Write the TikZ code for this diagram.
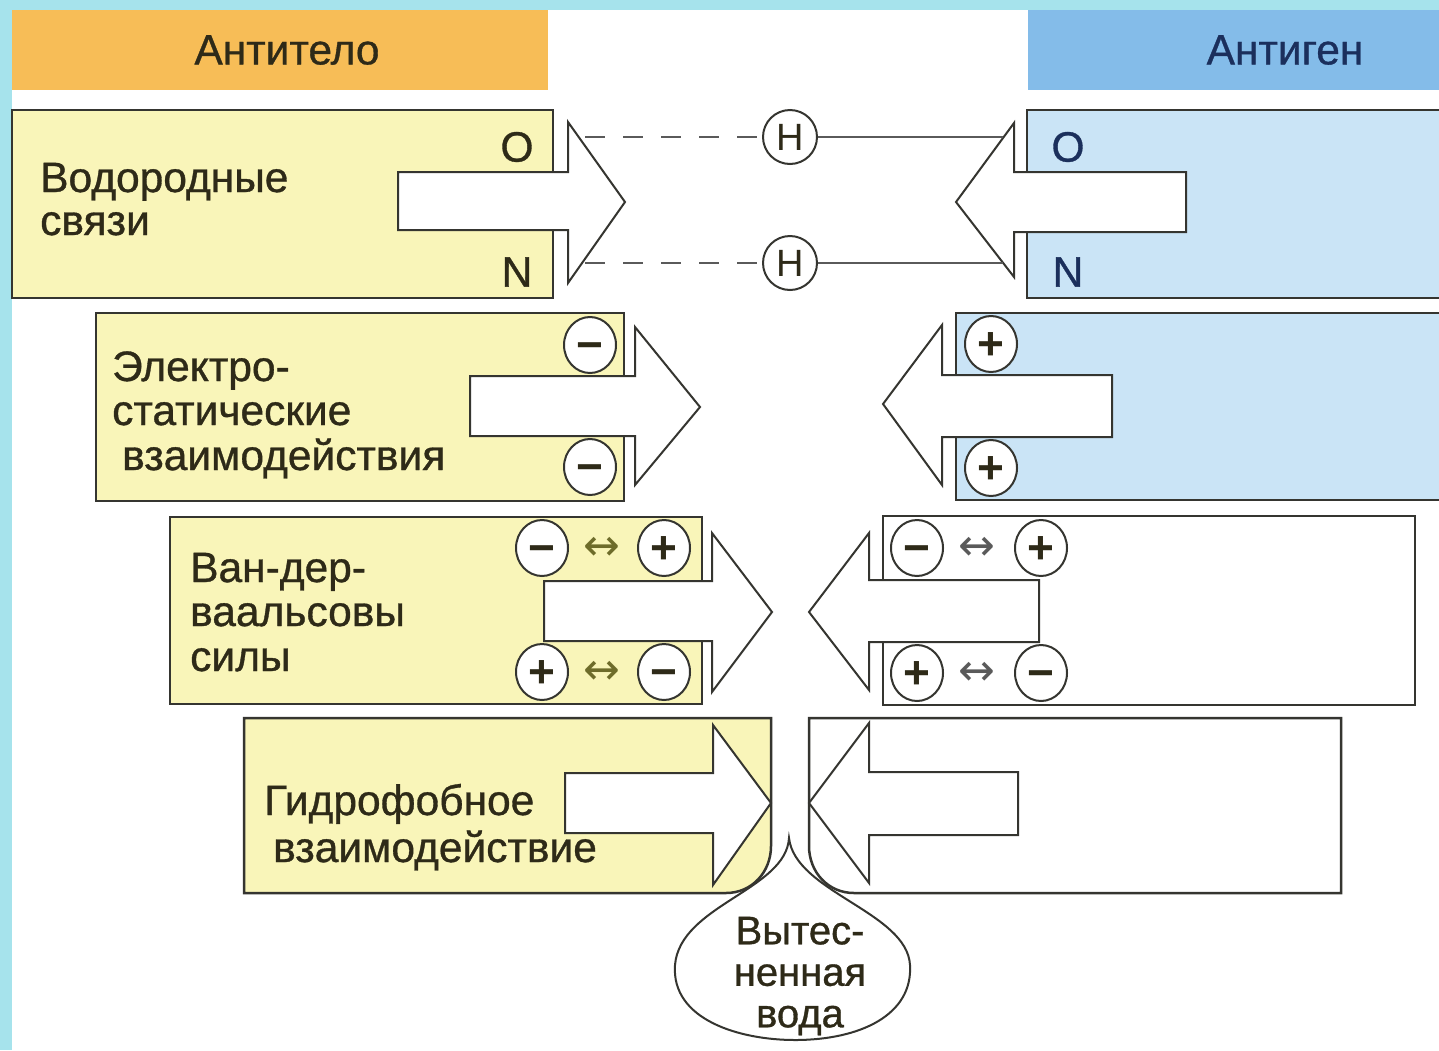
\documentclass[tikz,border=0pt]{standalone}
\usepackage{fontspec}
\setmainfont{Liberation Sans}
\newfontfamily\medfont{Liberation Sans}[FakeBold=0.8]
\newfontfamily\symfont{DejaVu Sans}
\usetikzlibrary{shapes.geometric}
\definecolor{framec}{HTML}{A6E3EC}
\definecolor{orangec}{HTML}{F7BD57}
\definecolor{bluehdr}{HTML}{84BCE9}
\definecolor{yelf}{HTML}{F9F5B9}
\definecolor{bluef}{HTML}{CAE4F6}
\definecolor{linec}{HTML}{353530}
\definecolor{textc}{HTML}{2E2A18}
\definecolor{navyc}{HTML}{1B2F5C}
\definecolor{olivec}{HTML}{6E6C2A}
\definecolor{grayl}{HTML}{5A5A5A}
\newcommand{\lblfont}{\medfont\fontsize{42.5}{46}\selectfont}
\newcommand{\chgfont}{\fontsize{46}{46}\selectfont\bfseries}
\tikzset{
  boxstyle/.style={draw=linec, line width=2.5pt},
  arrstyle/.style={draw=linec, line width=2pt, fill=white, line join=miter},
  lbl/.style={anchor=base west, font=\lblfont, text=textc, inner sep=0pt},
  hdr/.style={font=\lblfont, text=textc, inner sep=0pt},
  atom/.style={font=\lblfont, text=textc, inner sep=0pt},
  chg/.style={ellipse, draw=linec, line width=2pt, fill=white, minimum width=52pt, minimum height=56pt, inner sep=0pt, font=\chgfont, text=textc, text height=30pt, text depth=0pt},
  hcirc/.style={ellipse, draw=linec, line width=2pt, fill=white, minimum width=54pt, minimum height=54pt, inner sep=0pt, font=\fontsize{38}{38}\selectfont, text=textc},
  dsh/.style={draw=grayl, line width=2.5pt, dash pattern=on 20pt off 18pt},
  sol/.style={draw=grayl, line width=2.5pt},
  dbl/.style={font=\symfont\fontsize{44}{44}\selectfont, inner sep=0pt},
  dropstyle/.style={draw=linec, line width=2pt, fill=white},
  droptext/.style={font=\medfont\fontsize{40}{41.5}\selectfont, text=textc, inner sep=0pt, align=center},
}
\begin{document}
\begin{tikzpicture}[x=1pt,y=-1pt]
\useasboundingbox (0,0) rectangle (1439,1050);
\fill[framec] (0,0) rectangle (1439,1050);
\fill[white] (12,10) rectangle (1439,1050);

% headers
\fill[orangec] (12,10) rectangle (548,90);
\fill[bluehdr] (1028,10) rectangle (1439,90);
\node[hdr] (hab) at (287,50) {Антитело};
\node[hdr, text=navyc] (hag) at (1285,50) {Антиген};

% ---------- row 1: hydrogen bonds
\draw[boxstyle, fill=yelf] (12,110) rectangle (553,298);
\draw[boxstyle, fill=bluef] (1027,110) rectangle (1445,298);
\draw[arrstyle] (398,172) -- (568,172) -- (568,122) -- (625,202) -- (568,283) -- (568,230) -- (398,230) -- cycle;
\draw[arrstyle] (1186,172) -- (1014,172) -- (1014,123) -- (956,202) -- (1014,277) -- (1014,232) -- (1186,232) -- cycle;
\node[lbl] (t1a) at (40,192) {Водородные};
\node[lbl] (t1b) at (40,235) {связи};
\node[atom] (o1) at (517,147) {O};
\node[atom] (n1) at (517,272) {N};
\node[atom, text=navyc] (o2) at (1068,147) {O};
\node[atom, text=navyc] (n2) at (1068,272) {N};
\coordinate (d1) at (585,137);
\coordinate (d2) at (585,263);
\coordinate (e1) at (1003,137);
\coordinate (e2) at (1003,263);
\node[hcirc] (h1) at (790,137) {H};
\node[hcirc] (h2) at (790,263) {H};
\draw[dsh] (d1) -- (h1);
\draw[dsh] (d2) -- (h2);
\draw[sol] (h1) -- (e1);
\draw[sol] (h2) -- (e2);

% ---------- row 2: electrostatic
\draw[boxstyle, fill=yelf] (96,313) rectangle (624,501);
\draw[boxstyle, fill=bluef] (956,313) rectangle (1445,500);
\draw[arrstyle] (470,376) -- (635,376) -- (635,327) -- (700,407) -- (635,485) -- (635,436) -- (470,436) -- cycle;
\draw[arrstyle] (1112,375) -- (942,375) -- (942,325) -- (883,404) -- (942,485) -- (942,437) -- (1112,437) -- cycle;
\node[lbl] (t2a) at (112,381) {Электро-};
\node[lbl] (t2b) at (112,425) {статические};
\node[lbl] (t2c) at (122,470) {взаимодействия};
\node[chg] (m21) at (590,345) {−};
\node[chg] (m22) at (590,467) {−};
\node[chg] (p21) at (991,344) {+};
\node[chg] (p22) at (991,468) {+};

% ---------- row 3: van der Waals
\draw[boxstyle, fill=yelf] (170,517) rectangle (702,704);
\draw[boxstyle, fill=white] (883,516) rectangle (1415,705);
\draw[arrstyle] (544,581) -- (712,581) -- (712,533) -- (772,612) -- (712,692) -- (712,641) -- (544,641) -- cycle;
\draw[arrstyle] (1039,580) -- (869,580) -- (869,533) -- (809,612) -- (869,690) -- (869,642) -- (1039,642) -- cycle;
\node[lbl] (t3a) at (190,582) {Ван-дер-};
\node[lbl] (t3b) at (190,626) {ваальсовы};
\node[lbl] (t3c) at (190,671) {силы};
\node[chg] (c31) at (542,548) {−};
\node[dbl, text=olivec] (a31) at (602,549) {↔};
\node[chg] (c32) at (664,548) {+};
\node[chg] (c33) at (542,672) {+};
\node[dbl, text=olivec] (a32) at (602,673) {↔};
\node[chg] (c34) at (664,672) {−};
\node[chg] (c35) at (917,548) {−};
\node[dbl, text=grayl] (a33) at (977,549) {↔};
\node[chg] (c36) at (1041,548) {+};
\node[chg] (c37) at (917,673) {+};
\node[dbl, text=grayl] (a34) at (977,674) {↔};
\node[chg] (c38) at (1041,673) {−};

% ---------- row 4: hydrophobic
\draw[boxstyle, fill=yelf] (244,718) -- (771,718) -- (771,846) .. controls (771,872) and (752,893) .. (726,893) -- (244,893) -- cycle;
\draw[boxstyle, fill=white] (809,718) -- (1341,718) -- (1341,893) -- (854,893) .. controls (828,893) and (809,872) .. (809,846) -- cycle;
\draw[arrstyle] (565,773) -- (713,773) -- (713,725) -- (771,803) -- (713,885) -- (713,833) -- (565,833) -- cycle;
\draw[arrstyle] (1018,772) -- (869,772) -- (869,723) -- (809,803) -- (869,883) -- (869,835) -- (1018,835) -- cycle;
\node[lbl] (t4a) at (264,815) {Гидрофобное};
\node[lbl] (t4b) at (273,862) {взаимодействие};

% ---------- displaced water drop
\draw[dropstyle] (789,838) .. controls (786,890) and (680,905) .. (675,965)
  .. controls (671,1020) and (740,1040) .. (795,1040)
  .. controls (860,1040) and (913,1015) .. (910,965)
  .. controls (907,912) and (795,892) .. (789,838) -- cycle;
\node[droptext] (water) at (800,976) {Вытес-\\ненная\\вода};
\end{tikzpicture}
\end{document}
